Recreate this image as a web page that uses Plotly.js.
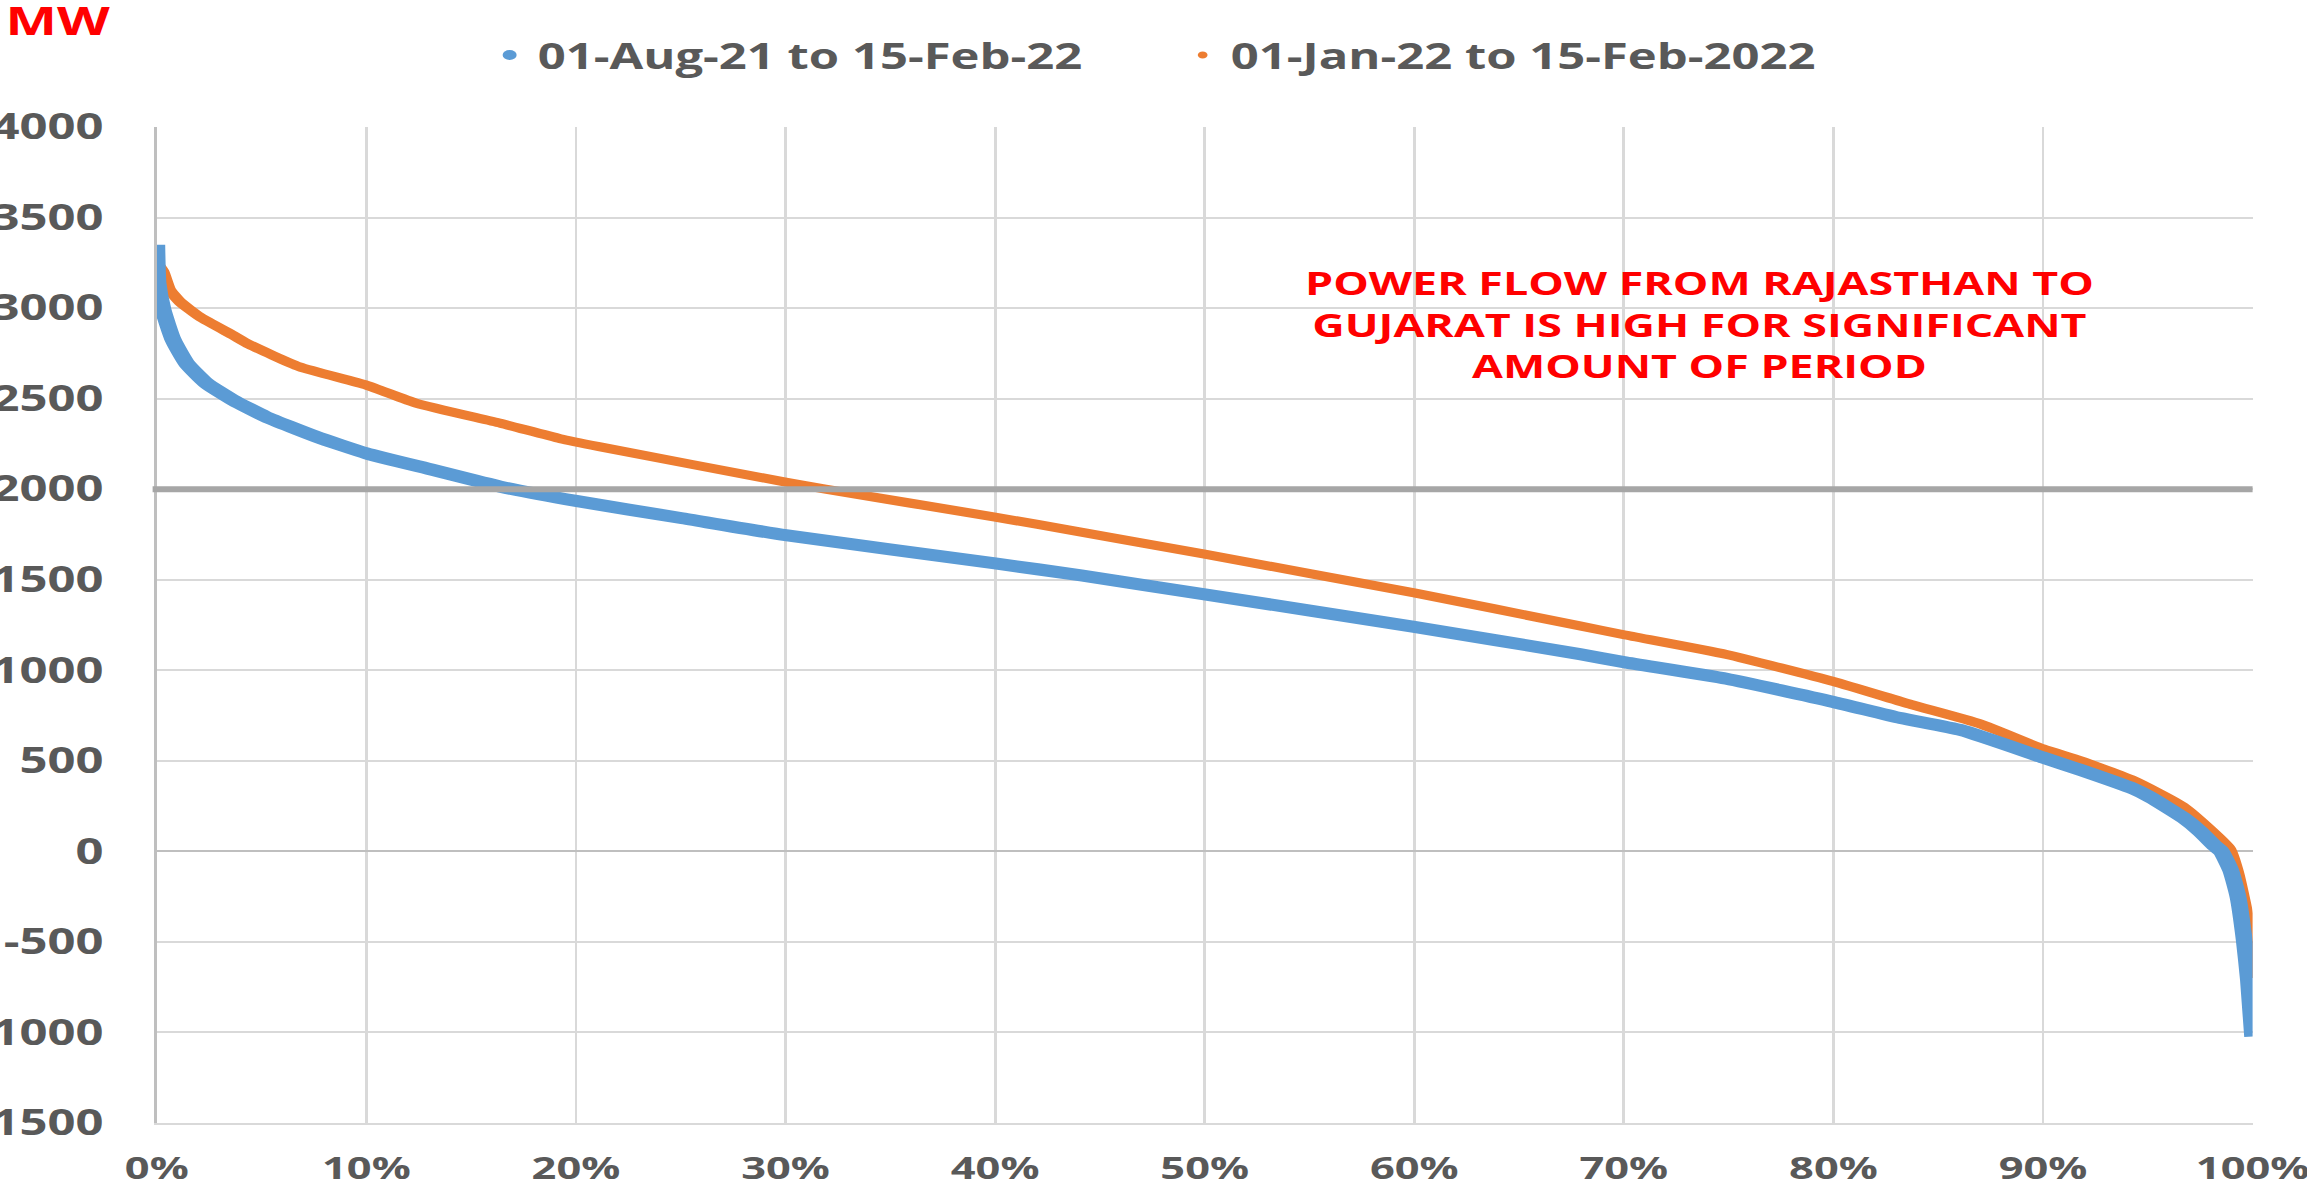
<html><head>
<title>Power flow duration curve</title>
<script src="https://cdn.plot.ly/plotly-3.0.1.min.js"></script>
<style>
  body { margin: 0; padding: 0; background: #fff; overflow: hidden; }
  /* the source chart is stretched sideways, so draw narrower and widen it */
  #chart { width: 1648px; height: 1186px; transform: scaleX(1.4); transform-origin: 0 0; }
</style>
</head>
<body>
<div id="chart"></div>
<script>
// duration curve, 01-Aug-21 to 15-Feb-22 (percent of time, MW)
const pctBlue = [0, 0.06, 0.3, 0.78, 1.42, 2.37, 3.64, 5.2, 7.6, 10, 13.2, 16.4, 20, 25, 30, 40, 44.1, 50, 60, 67.9, 70, 74.9, 80, 83.2, 86.1, 90, 91.8, 94.3, 95.1, 96.7, 97.5, 98.2, 98.5, 98.95, 99.3, 99.6, 99.8, 100];
const mwBlue = [3350, 3137, 2990, 2824, 2695, 2585, 2492, 2400, 2290, 2198, 2106, 2014, 1935, 1841, 1746, 1590, 1524, 1419, 1240, 1089, 1045, 953, 825, 736, 669, 518, 449, 346, 300, 185, 110, 30, 0, -103, -250, -489, -710, -1023];

// duration curve, 01-Jan-22 to 15-Feb-2022
const pctOrange = [0, 0.3, 0.62, 1.1, 2.05, 3.64, 4.4, 6.8, 10, 12.4, 16.4, 19.25, 21.1, 30, 31.9, 40, 44.1, 50, 60, 67.9, 70, 74.9, 80, 83.7, 87, 90, 91.8, 94.3, 96.7, 98.9, 99.3, 99.7, 99.9, 100];
const mwOrange = [3250, 3200, 3100, 3035, 2952, 2850, 2800, 2676, 2575, 2474, 2364, 2279, 2235, 2039, 2000, 1846, 1763, 1641, 1427, 1245, 1196, 1087, 938, 811, 704, 566, 500, 392, 245, 13, -120, -330, -520, -700];

const seriesNames = ['01-Aug-21 to 15-Feb-22', '01-Jan-22 to 15-Feb-2022'];
const seriesColors = ['#5b9bd5', '#ed7d31'];

const threshold = 2000;
const yTickVals = [-1500, -1000, -500, 0, 500, 1000, 1500, 2000, 2500, 3000, 3500, 4000];
const yTickText = ['-1500', '-1000', '-500', '0', '500', '1000', '1500', '2000', '2500', '3000', '3500', '4000'];
const xTickVals = [0, 10, 20, 30, 40, 50, 60, 70, 80, 90, 100];
const xTickText = ['0%', '10%', '20%', '30%', '40%', '50%', '60%', '70%', '80%', '90%', '100%'];

const note = 'POWER FLOW FROM RAJASTHAN TO<br>GUJARAT IS HIGH FOR SIGNIFICANT<br>AMOUNT OF PERIOD';

const txt = '#595959';
const fam = '"Open Sans", "DejaVu Sans", sans-serif';

const data = [
  { x: pctOrange, y: mwOrange, mode: 'lines', showlegend: false, hoverinfo: 'skip',
    line: { color: seriesColors[1], width: 9, shape: 'spline', smoothing: 0.5 } },
  { x: pctBlue, y: mwBlue, mode: 'lines', showlegend: false, hoverinfo: 'skip',
    line: { color: seriesColors[0], width: 12, shape: 'spline', smoothing: 0.5 } },
  // legend entries show as dots, like the source
  { x: [null], y: [null], mode: 'markers', name: seriesNames[0],
    marker: { color: seriesColors[0], size: 10 } },
  { x: [null], y: [null], mode: 'markers', name: seriesNames[1],
    marker: { color: seriesColors[1], size: 7 } }
];

const layout = {
  width: 1648, height: 1186,
  margin: { l: 112, r: 39, t: 127, b: 63 },
  paper_bgcolor: '#fff', plot_bgcolor: '#fff',
  font: { family: fam, color: txt },
  showlegend: true,
  legend: {
    orientation: 'h', x: 0.155, xanchor: 'left', y: 1.072, yanchor: 'middle',
    font: { size: 35, weight: 700, color: txt },
    entrywidth: 450, entrywidthmode: 'pixels', itemclick: false
  },
  xaxis: {
    range: [0, 100], tickvals: xTickVals, ticktext: xTickText,
    showgrid: true, gridcolor: '#d9d9d9', gridwidth: 2,
    showline: true, linecolor: '#d9d9d9', linewidth: 2,
    zeroline: false, ticks: '', ticklabelstandoff: 17, ticklabeloverflow: 'allow',
    tickfont: { size: 31, weight: 700, color: txt }
  },
  yaxis: {
    range: [-1500, 4000], tickvals: yTickVals, ticktext: yTickText,
    showgrid: true, gridcolor: '#d9d9d9', gridwidth: 2,
    showline: true, linecolor: '#bfbfbf', linewidth: 2,
    zeroline: true, zerolinecolor: '#bfbfbf', zerolinewidth: 2,
    ticks: '', ticklabelstandoff: 29, ticklabeloverflow: 'allow',
    tickfont: { size: 35, weight: 700, color: txt }
  },
  shapes: [
    { type: 'line', xref: 'paper', x0: -0.002, x1: 1, yref: 'y', y0: threshold, y1: threshold,
      line: { color: '#a6a6a6', width: 6 }, layer: 'above' }
  ],
  annotations: [
    { text: 'MW', xref: 'paper', yref: 'paper', x: -0.0735, xanchor: 'left', y: 1.108, yanchor: 'middle',
      showarrow: false, font: { size: 39, weight: 700, color: '#ff0000' } },
    { text: note, xref: 'paper', yref: 'paper', x: 0.736, xanchor: 'center', y: 0.802, yanchor: 'middle',
      showarrow: false, align: 'center', font: { size: 32, weight: 700, color: '#ff0000' } }
  ]
};

Plotly.newPlot('chart', data, layout, { displayModeBar: false, staticPlot: true });
</script>
</body></html>
